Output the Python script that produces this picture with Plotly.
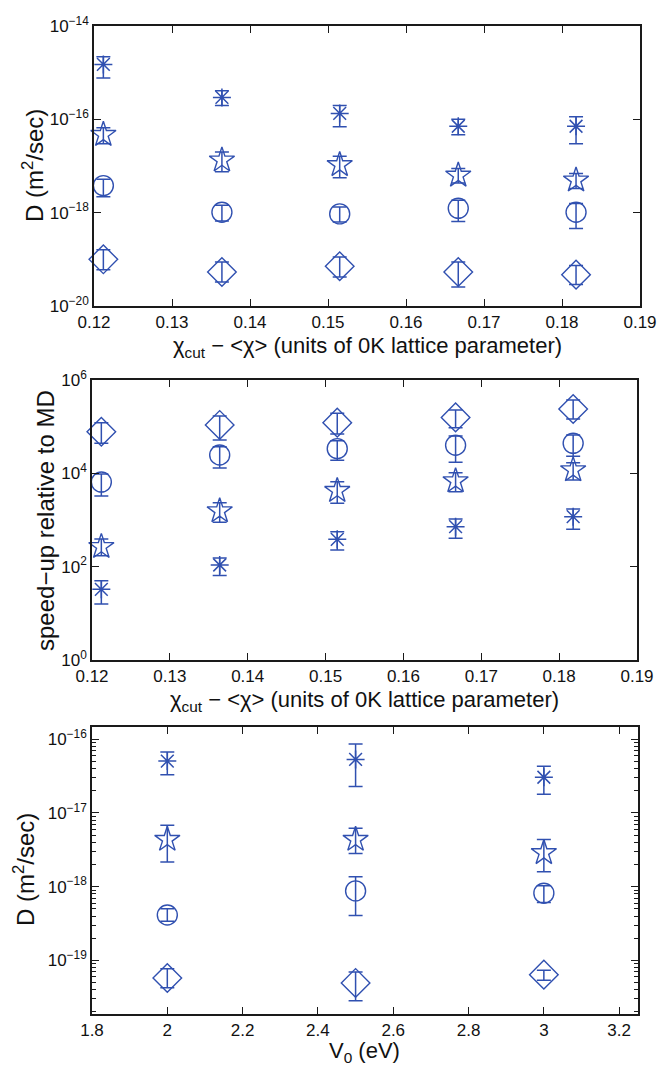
import math
import plotly.graph_objects as go

# ---------------- data ----------------
# Panels 1 & 2: x = chi_cut - <chi>
chi = [0.1212, 0.1364, 0.1515, 0.1667, 0.1818]

# Panel 1: diffusion coefficient D (m^2/sec): value, upper end, lower end
D1_ast = [1.5e-15, 2.95e-16, 1.34e-16, 7.1e-17, 7.1e-17]
D1_ast_hi = [2.2e-15, 4.1e-16, 1.99e-16, 1.01e-16, 1.13e-16]
D1_ast_lo = [7.7e-16, 1.99e-16, 6.9e-17, 4.7e-17, 3.0e-17]

D1_pent = [4.7e-17, 1.33e-17, 1.06e-17, 6.3e-18, 4.95e-18]
D1_pent_hi = [6.6e-17, 2.0e-17, 1.62e-17, 8.8e-18, 6.9e-18]
D1_pent_lo = [3.0e-17, 7.5e-18, 5.6e-18, 4.3e-18, 3.3e-18]

D1_circ = [3.8e-18, 1.02e-18, 9.4e-19, 1.24e-18, 1.02e-18]
D1_circ_hi = [5.2e-18, 1.45e-18, 1.33e-18, 1.85e-18, 1.57e-18]
D1_circ_lo = [2.2e-18, 6.6e-19, 6.3e-19, 6.5e-19, 4.6e-19]

D1_diam = [1.0e-19, 5.35e-20, 7.1e-20, 5.35e-20, 4.7e-20]
D1_diam_hi = [1.61e-19, 8.8e-20, 1.12e-19, 8.8e-20, 7.4e-20]
D1_diam_lo = [6.0e-20, 3.27e-20, 4.18e-20, 2.55e-20, 2.9e-20]

# Panel 2: speed-up relative to MD
S_diam = [7.8e4, 1.09e5, 1.22e5, 1.58e5, 2.39e5]
S_diam_hi = [1.22e5, 1.69e5, 1.93e5, 2.28e5, 3.72e5]
S_diam_lo = [4.4e4, 5.2e4, 7.0e4, 9.5e4, 1.46e5]

S_circ = [6.5e3, 2.47e4, 3.38e4, 4.0e4, 4.4e4]
S_circ_hi = [9.7e3, 3.72e4, 5.0e4, 6.3e4, 6.6e4]
S_circ_lo = [3.27e3, 1.3e4, 1.9e4, 1.72e4, 2.31e4]

S_pent = [268, 1.56e3, 4.25e3, 6.85e3, 1.18e4]
S_pent_hi = [392, 2.35e3, 6.6e3, 1.03e4, 1.69e4]
S_pent_lo = [172, 891, 2.28e3, 4.05e3, 7.2e3]

S_ast = [32.7, 108.6, 385, 720, 1.18e3]
S_ast_hi = [50, 153, 562, 1.05e3, 1.72e3]
S_ast_lo = [15.8, 65, 228, 405, 631]

# Panel 3: D vs V0 (eV)
V0 = [2.0, 2.5, 3.0]
D3_ast = [5.06e-17, 5.32e-17, 3.05e-17]
D3_ast_hi = [6.7e-17, 8.6e-17, 4.3e-17]
D3_ast_lo = [3.3e-17, 2.28e-17, 1.8e-17]

D3_pent = [4.36e-18, 4.36e-18, 2.88e-18]
D3_pent_hi = [6.8e-18, 6.2e-18, 4.36e-18]
D3_pent_lo = [2.16e-18, 2.83e-18, 1.6e-18]

D3_circ = [4.13e-19, 8.77e-19, 8.16e-19]
D3_circ_hi = [5.0e-19, 1.36e-18, 1.03e-18]
D3_circ_lo = [3.4e-19, 4.05e-19, 6.1e-19]

D3_diam = [5.78e-20, 4.95e-20, 6.41e-20]
D3_diam_hi = [7.7e-20, 6.97e-20, 7.35e-20]
D3_diam_lo = [4.25e-20, 2.84e-20, 5.38e-20]

# tick labels
xt12 = [0.12, 0.13, 0.14, 0.15, 0.16, 0.17, 0.18, 0.19]
xt3 = [1.8, 2.0, 2.2, 2.4, 2.6, 2.8, 3.0, 3.2]
yexp1 = [-20, -18, -16, -14]
yexp2 = [0, 2, 4, 6]
yexp3 = [-19, -18, -17, -16]

# ---------------- styling ----------------
BLUE = "#3050b0"
FONT = "Liberation Sans, Arial, Helvetica, sans-serif"
W, H = 658, 1066

fig = go.Figure()

MARK = {
    "ast": dict(symbol="asterisk-open", size=15, line=dict(color=BLUE, width=1.5)),
    "pent": dict(symbol="star-open", size=19, line=dict(color=BLUE, width=1.4)),
    "circ": dict(symbol="circle-open", size=20, line=dict(color=BLUE, width=1.4)),
    "diam": dict(symbol="diamond-open", size=22, line=dict(color=BLUE, width=1.4)),
}


def add(x, y, hi, lo, kind, xa, ya):
    plus = [h - v for h, v in zip(hi, y)]
    minus = [v - l for v, l in zip(y, lo)]
    fig.add_trace(go.Scatter(
        x=x, y=y, mode="markers", xaxis=xa, yaxis=ya,
        marker=dict(color=BLUE, **MARK[kind]),
        error_y=dict(type="data", array=plus, arrayminus=minus, symmetric=False,
                     color=BLUE, thickness=1.5, width=7),
        showlegend=False, cliponaxis=False))


add(chi, D1_ast, D1_ast_hi, D1_ast_lo, "ast", "x", "y")
add(chi, D1_pent, D1_pent_hi, D1_pent_lo, "pent", "x", "y")
add(chi, D1_circ, D1_circ_hi, D1_circ_lo, "circ", "x", "y")
add(chi, D1_diam, D1_diam_hi, D1_diam_lo, "diam", "x", "y")

add(chi, S_diam, S_diam_hi, S_diam_lo, "diam", "x2", "y2")
add(chi, S_circ, S_circ_hi, S_circ_lo, "circ", "x2", "y2")
add(chi, S_pent, S_pent_hi, S_pent_lo, "pent", "x2", "y2")
add(chi, S_ast, S_ast_hi, S_ast_lo, "ast", "x2", "y2")

add(V0, D3_ast, D3_ast_hi, D3_ast_lo, "ast", "x3", "y3")
add(V0, D3_pent, D3_pent_hi, D3_pent_lo, "pent", "x3", "y3")
add(V0, D3_circ, D3_circ_hi, D3_circ_lo, "circ", "x3", "y3")
add(V0, D3_diam, D3_diam_hi, D3_diam_lo, "diam", "x3", "y3")


def sup(e):
    s = str(e).replace("-", "\u2212")
    return "10<sup>" + s + "</sup>"


def px_x(a, b):
    return [a / W, b / W]


def px_y(top, bot):
    return [1 - bot / H, 1 - top / H]


axcommon = dict(showline=True, linecolor="#1a1a1a", linewidth=1.6, mirror="ticks",
                ticks="inside", ticklen=7, tickwidth=1, tickcolor="#1a1a1a",
                showgrid=False, zeroline=False, automargin=False,
                tickfont=dict(family=FONT, size=17, color="#111"))

yt1 = [10.0 ** e for e in yexp1]
yt2 = [10.0 ** e for e in yexp2]
yt3 = [10.0 ** e for e in yexp3]
minor3 = [m * 10.0 ** e for e in range(-20, -15) for m in range(2, 10)
          if -19.727 <= math.log10(m * 10.0 ** e) <= -15.834]

fig.update_layout(
    template="none",
    width=W, height=H, margin=dict(l=0, r=0, t=0, b=0),
    paper_bgcolor="white", plot_bgcolor="white",
    font=dict(family=FONT, color="#111"),
    xaxis=dict(domain=px_x(94, 640), anchor="y", range=[0.12, 0.19],
               tickvals=xt12, ticktext=[f"{v:.2f}" for v in xt12], **axcommon),
    yaxis=dict(domain=px_y(26, 306), anchor="x", type="log", range=[-20, -14],
               tickvals=yt1, ticktext=[sup(e) for e in yexp1], **axcommon),
    xaxis2=dict(domain=px_x(92, 637), anchor="y2", range=[0.12, 0.19],
                tickvals=xt12, ticktext=[f"{v:.2f}" for v in xt12], **axcommon),
    yaxis2=dict(domain=px_y(380, 660), anchor="x2", type="log", range=[0, 6],
                tickvals=yt2, ticktext=[sup(e) for e in yexp2], **axcommon),
    xaxis3=dict(domain=px_x(92, 638), anchor="y3", range=[1.8, 3.25],
                tickvals=xt3, ticktext=[f"{v:g}" for v in xt3], **axcommon),
    yaxis3=dict(domain=px_y(727, 1014), anchor="x3", type="log", range=[-19.727, -15.834],
                tickvals=yt3, ticktext=[sup(e) for e in yexp3],
                minor=dict(tickvals=minor3, ticks="inside", ticklen=4, tickcolor="#1a1a1a"),
                **axcommon),
)

xtitle = "\u03c7<sub>cut</sub> \u2212 &lt;\u03c7&gt; (units of 0K lattice parameter)"
TF = dict(family=FONT, size=22, color="#111")
YF = dict(family=FONT, size=24, color="#111")
ann = [
    dict(text=xtitle, x=367 / W, y=1 - 347 / H, font=TF),
    dict(text=xtitle, x=364 / W, y=1 - 701 / H, font=TF),
    dict(text="V<sub>0</sub> (eV)", x=365 / W, y=1 - 1052 / H, font=TF),
    dict(text="D (m<sup>2</sup>/sec)", x=33 / W, y=1 - 166 / H, font=YF, textangle=-90),
    dict(text="speed\u2212up relative to MD", x=45 / W, y=1 - 521 / H, font=YF, textangle=-90),
    dict(text="D (m<sup>2</sup>/sec)", x=24 / W, y=1 - 870 / H, font=YF, textangle=-90),
]
for a in ann:
    fig.add_annotation(xref="paper", yref="paper", showarrow=False,
                       xanchor="center", yanchor="middle", **a)

fig.write_html("out.html")
